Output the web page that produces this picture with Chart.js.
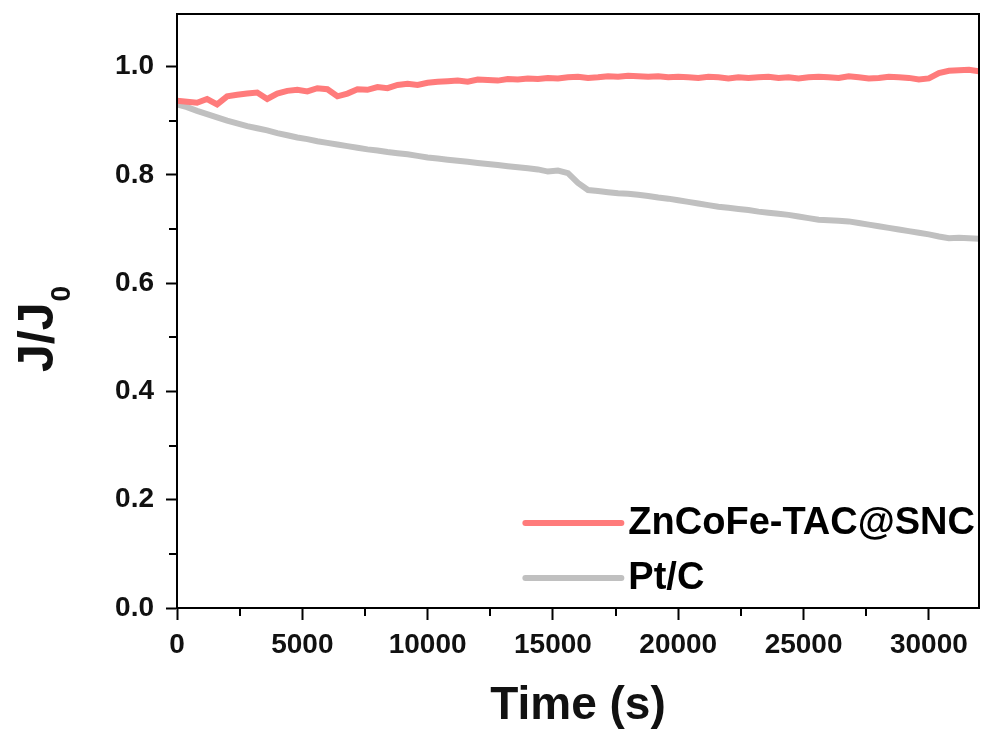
<!DOCTYPE html>
<html><head><meta charset="utf-8">
<script src="https://cdn.jsdelivr.net/npm/chart.js@4.4.0/dist/chart.umd.min.js"></script>
<style>html,body{margin:0;padding:0;background:#fff;}</style>
</head><body>
<canvas id="c" width="983" height="740"></canvas>
<script>
const timeS = [0,400,800,1200,1600,2000,2400,2800,3200,3600,4000,4400,4800,5200,5600,6000,6400,6800,7200,7600,8000,8400,8800,9200,9600,10000,10400,10800,11200,11600,12000,12400,12800,13200,13600,14000,14400,14800,15200,15600,16000,16400,16800,17200,17600,18000,18400,18800,19200,19600,20000,20400,20800,21200,21600,22000,22400,22800,23200,23600,24000,24400,24800,25200,25600,26000,26400,26800,27200,27600,28000,28400,28800,29200,29600,30000,30400,30800,31200,31600,32000];
const ratioZnCoFe = [0.937,0.935,0.933,0.940,0.930,0.945,0.948,0.950,0.952,0.940,
0.950,0.955,0.957,0.954,0.960,0.958,0.945,0.950,0.958,0.957,
0.962,0.960,0.966,0.968,0.966,0.970,0.972,0.973,0.974,0.972,
0.976,0.975,0.974,0.977,0.976,0.978,0.977,0.979,0.978,0.980,
0.981,0.979,0.980,0.982,0.981,0.983,0.982,0.981,0.982,0.980,
0.981,0.980,0.979,0.981,0.980,0.978,0.980,0.979,0.980,0.981,
0.979,0.980,0.978,0.980,0.981,0.980,0.979,0.982,0.980,0.978,
0.979,0.981,0.980,0.979,0.976,0.978,0.988,0.992,0.993,0.994,0.991];
const ratioPtC = [0.930,0.925,0.918,0.912,0.906,0.900,0.895,0.890,0.886,0.882,
0.877,0.873,0.869,0.866,0.862,0.859,0.856,0.853,0.850,0.847,
0.845,0.842,0.840,0.838,0.835,0.832,0.830,0.828,0.826,0.824,
0.822,0.820,0.818,0.816,0.814,0.812,0.810,0.806,0.808,0.803,
0.785,0.772,0.770,0.768,0.766,0.765,0.763,0.761,0.758,0.756,
0.753,0.750,0.747,0.744,0.741,0.739,0.737,0.735,0.732,0.730,
0.728,0.726,0.723,0.720,0.717,0.716,0.715,0.714,0.711,0.708,
0.705,0.702,0.699,0.696,0.693,0.690,0.686,0.683,0.684,0.683,0.682];
const seriesNames = ['ZnCoFe-TAC@SNC', 'Pt/C'];
const seriesColors = ['#ff7b7b', '#c0c0c0'];
const xTickValues = [0,5000,10000,15000,20000,25000,30000];
const xMinorTicks = [2500,7500,12500,17500,22500,27500];
const yTickValues = [0,0.2,0.4,0.6,0.8,1.0];
const yMinorTicks = [0.1,0.3,0.5,0.7,0.9];
const xTitle = 'Time (s)';
const yTitleMain = 'J/J';
const yTitleSub = '0';

const FONT = "'Liberation Sans', Arial, sans-serif";

const framePlugin = {
  id: 'frame',
  afterDraw(chart) {
    const {ctx, chartArea: a, scales} = chart;
    ctx.save();
    ctx.strokeStyle = '#000';
    ctx.lineWidth = 2;
    ctx.strokeRect(a.left, a.top, a.right - a.left, a.bottom - a.top);
    ctx.beginPath();
    yMinorTicks.forEach(v => {
      const y = Math.round(scales.y.getPixelForValue(v));
      ctx.moveTo(a.left - 8, y); ctx.lineTo(a.left, y);
    });
    xMinorTicks.forEach(v => {
      const x = Math.round(scales.x.getPixelForValue(v));
      ctx.moveTo(x, a.bottom); ctx.lineTo(x, a.bottom + 8);
    });
    ctx.stroke();
    ctx.font = 'bold 38px ' + FONT;
    const w = ctx.measureText(seriesNames[0]).width;
    const tx = a.right - 4 - w;
    const ys = [a.bottom - 85, a.bottom - 30];
    chart.data.datasets.forEach((ds, i) => {
      ctx.strokeStyle = ds.borderColor;
      ctx.lineWidth = 6;
      ctx.lineCap = 'round';
      ctx.beginPath();
      ctx.moveTo(tx - 103, ys[i]); ctx.lineTo(tx - 7, ys[i]);
      ctx.stroke();
      ctx.fillStyle = '#000';
      ctx.textBaseline = 'middle';
      ctx.textAlign = 'left';
      ctx.fillText(ds.label, tx, ys[i] + 1);
    });
    ctx.translate(53, 372);
    ctx.rotate(-Math.PI / 2);
    ctx.fillStyle = '#111';
    ctx.textBaseline = 'alphabetic';
    ctx.font = 'bold 50px ' + FONT;
    ctx.fillText(yTitleMain, 0, 0);
    const mw = ctx.measureText(yTitleMain).width;
    ctx.font = 'bold 28px ' + FONT;
    ctx.fillText(yTitleSub, mw + 1, 17);
    ctx.restore();
  }
};

new Chart(document.getElementById('c'), {
  type: 'line',
  data: {
    datasets: [
      { label: seriesNames[0], data: timeS.map((t, i) => ({x: t, y: ratioZnCoFe[i]})), borderColor: seriesColors[0], borderWidth: 6, pointRadius: 0, tension: 0 },
      { label: seriesNames[1], data: timeS.map((t, i) => ({x: t, y: ratioPtC[i]})), borderColor: seriesColors[1], borderWidth: 6, pointRadius: 0, tension: 0 }
    ]
  },
  options: {
    responsive: false,
    animation: false,
    devicePixelRatio: 1,
    layout: { padding: { left: 0, right: 4, top: 14, bottom: 0 } },
    plugins: { legend: { display: false }, tooltip: { enabled: false } },
    scales: {
      x: {
        type: 'linear', min: 0, max: 32000,
        afterBuildTicks: s => { s.ticks = xTickValues.map(v => ({value: v})); },
        afterFit: s => { s.height = 132; s.paddingLeft = 0; s.paddingRight = 0; },
        grid: { drawOnChartArea: false, drawTicks: true, tickLength: 12, tickWidth: 2, tickColor: '#000' },
        border: { display: true, color: '#000', width: 2 },
        ticks: { color: '#111', font: { family: FONT, size: 28, weight: 'bold' }, padding: 8, maxRotation: 0, callback: v => String(v) },
        title: { display: true, text: xTitle, color: '#111', font: { family: FONT, size: 46, weight: 'bold' }, padding: { top: 0, bottom: 6 } }
      },
      y: {
        type: 'linear', min: 0, max: 1.097,
        afterBuildTicks: s => { s.ticks = yTickValues.map(v => ({value: v})); },
        afterFit: s => { s.width = 177; s.paddingTop = 0; s.paddingBottom = 0; },
        grid: { drawOnChartArea: false, drawTicks: true, tickLength: 11, tickWidth: 2, tickColor: '#000' },
        border: { display: true, color: '#000', width: 2 },
        ticks: { color: '#111', font: { family: FONT, size: 28, weight: 'bold' }, padding: 12, callback: v => Number(v).toFixed(1) }
      }
    }
  },
  plugins: [framePlugin]
});
</script>
</body></html>
